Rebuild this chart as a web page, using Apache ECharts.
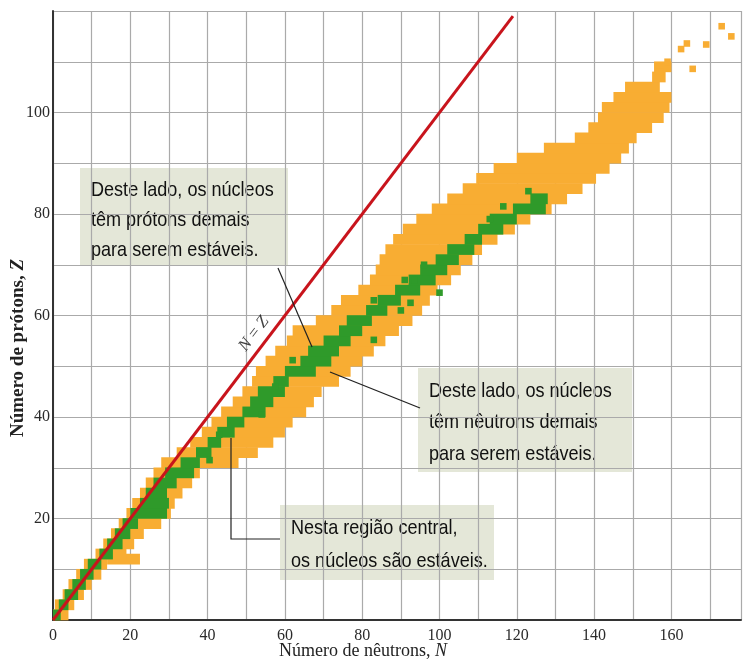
<!DOCTYPE html>
<html>
<head>
<meta charset="utf-8">
<script src="https://cdn.jsdelivr.net/npm/echarts@6/dist/echarts.min.js"></script>
<style>
  html, body { margin: 0; padding: 0; background: #fff; }
  #chart { width: 744px; height: 662px; }
</style>
</head>
<body>
<div id="chart"></div>
<script>
// orange: all known nuclides, one row per 2 protons [Z, Nmin, Nmax]
var unstableRows = [
  [1, 0, 4], [3, 0.5, 5.5], [5, 2.5, 8], [7, 4, 10], [9, 6, 12.5],
  [11, 8, 14], [12, 14, 22.5], [13, 11, 19], [15, 13, 21], [17, 15, 23.5],
  [19, 17, 28], [21, 19, 30.5], [23, 20.5, 31.5], [25, 22.5, 33.5], [27, 24, 36],
  [29, 26, 38], [31, 28, 48], [33, 32, 53], [35, 35.5, 57], [37, 38.5, 60],
  [39, 41, 62], [41, 43.5, 65.5], [43, 46.5, 67.5], [45, 49, 69.5], [47, 51.5, 74],
  [49, 52.5, 77], [51, 55, 80], [53, 57.5, 83], [55, 60.5, 86], [57, 62, 89.5],
  [59, 68, 93], [61, 72, 95.5], [63, 74.5, 97.5], [65, 79, 99.5], [67, 82, 103],
  [69, 83.5, 105.5], [71, 84.5, 108.5], [73, 86, 111], [75, 88, 115], [77, 90.5, 119.5],
  [79, 94, 123.5], [81, 98, 129], [83, 102, 133], [85, 106, 137], [87, 109.5, 140.5],
  [89, 114, 144], [91, 120, 147], [93, 127, 149], [95, 135, 151], [97, 138.5, 155],
  [99, 141, 158], [101, 142, 159.5], [103, 145, 160], [105, 148, 157],
  [107, 155, 158.5], [109, 155.5, 160]
];
// green: stable nuclides [Z, Nmin, Nmax]
var stableRows = [
  [1, 0, 2], [3, 1.5, 4], [5, 3, 6.5], [7, 5, 8.5], [9, 7, 10.5],
  [11, 9, 12.5], [13, 12, 15.5], [15, 14, 18], [17, 16, 20], [19, 18, 22],
  [21, 20, 29.5], [23, 22.5, 30], [25, 24, 29.5], [27, 26, 32], [29, 29, 36.5],
  [31, 33, 38], [33, 37, 41], [35, 40, 43.5], [37, 42.5, 47], [39, 45, 49.5],
  [41, 49, 55], [43, 51, 57], [45, 53, 60], [47, 57, 61], [49, 60, 68],
  [51, 64, 72], [53, 66, 74], [55, 70, 77], [57, 74, 80], [59, 76, 82.5],
  [61, 81, 86.5], [63, 84, 90], [65, 88.5, 95], [67, 92, 99], [69, 95, 102],
  [71, 99, 105], [73, 102, 109], [75, 106.5, 111], [77, 110, 116.5], [79, 113, 120],
  [81, 119, 127.5], [83, 123.5, 128]
];
// isolated squares [N, Z]
var stableCells = [
  [40.5, 31.5], [43, 36.5], [54, 40.5], [62, 51.2], [83, 63], [90, 61],
  [92.5, 62.5], [91, 67], [93.5, 67], [96, 70], [113, 79], [116.5, 81.5],
  [123, 84.5], [83, 55.2], [100, 64.5], [57.5, 46]
];
var unstableCells = [
  [157, 108], [159, 110], [162.5, 112.5], [164, 113.6], [165.5, 108.6],
  [169, 113.4], [173, 117], [175.5, 115]
];
var nzLine = [[0, 0], [119, 119]];
var xLabels = [0, 20, 40, 60, 80, 100, 120, 140, 160];
var yLabels = [20, 40, 60, 80, 100];

var ORANGE = '#f8ad33';
var GREEN = '#2f9a2a';

function rowItem(color) {
  return function (params, api) {
    var z = api.value(0);
    var a = api.coord([api.value(1), z + 1]);
    var b = api.coord([api.value(2), z - 1]);
    return {
      type: 'rect',
      shape: { x: a[0], y: a[1] - 0.3, width: b[0] - a[0], height: b[1] - a[1] + 0.6 },
      style: { fill: color }
    };
  };
}
function cellItem(color) {
  return function (params, api) {
    var c = api.coord([api.value(0), api.value(1)]);
    var s = api.size([1.7, 1.3]);
    return {
      type: 'rect',
      shape: { x: c[0] - s[0] / 2, y: c[1] - s[1] / 2, width: s[0], height: s[1] },
      style: { fill: color }
    };
  };
}

var serif = "'Liberation Serif', 'DejaVu Serif', serif";
var sans = "'Liberation Sans', Arial, sans-serif";

function note(x, y, w, h, text, lh) {
  return {
    type: 'group', x: x, y: y, z: 100,
    children: [
      { type: 'rect', shape: { x: 0, y: 0, width: w, height: h }, style: { fill: '#e4e7d8' } },
      { type: 'text', x: 11, y: 7, scaleX: 0.86, style: {
          text: text, fontFamily: sans, fontSize: 21, lineHeight: lh,
          fill: '#111', verticalAlign: 'top' } }
    ]
  };
}

var option = {
  animation: false,
  grid: { left: 53, top: 11, bottom: 42, right: 0 },
  xAxis: {
    type: 'value', min: 0, max: 178, interval: 10,
    axisLine: { lineStyle: { color: '#333', width: 2 } },
    axisTick: { show: false },
    axisLabel: {
      margin: 8, color: '#2a2a2a', fontFamily: serif, fontSize: 16,
      formatter: function (v) { return xLabels.indexOf(v) >= 0 ? v : ''; }
    },
    splitLine: { show: true, lineStyle: { color: '#aaaaaa', width: 1.2 } }
  },
  yAxis: {
    type: 'value', min: 0, max: 120, interval: 10,
    axisLine: { show: true, lineStyle: { color: '#333', width: 2 } },
    axisTick: { show: false },
    axisLabel: {
      margin: 3, color: '#2a2a2a', fontFamily: serif, fontSize: 16,
      formatter: function (v) { return yLabels.indexOf(v) >= 0 ? v : ''; }
    },
    splitLine: { show: true, lineStyle: { color: '#aaaaaa', width: 1.2 } }
  },
  series: [
    { type: 'custom', data: unstableRows, encode: { x: [1, 2], y: 0 }, renderItem: rowItem(ORANGE), z: 2, silent: true },
    { type: 'custom', data: unstableCells, encode: { x: 0, y: 1 }, renderItem: cellItem(ORANGE), z: 2, silent: true },
    { type: 'custom', data: stableRows, encode: { x: [1, 2], y: 0 }, renderItem: rowItem(GREEN), z: 3, silent: true },
    { type: 'custom', data: stableCells, encode: { x: 0, y: 1 }, renderItem: cellItem(GREEN), z: 3, silent: true },
    {
      type: 'line', data: nzLine, symbol: 'none', z: 5, silent: true,
      lineStyle: { color: '#c8141c', width: 3 }
    },
    {
      type: 'scatter', data: [[52, 56.4]], symbolSize: 0, z: 6, silent: true,
      label: {
        show: true, position: 'inside', rotate: 52.6,
        formatter: '{i|N} = {i|Z}',
        fontFamily: serif, fontSize: 17, color: '#111',
        rich: { i: { fontStyle: 'italic', fontFamily: serif, fontSize: 17, color: '#111' } }
      }
    }
  ],
  graphic: [
    { type: 'polyline', z: 100, shape: { points: [[278, 268], [312, 347]] }, style: { stroke: '#222', lineWidth: 1.2, fill: null } },
    { type: 'polyline', z: 100, shape: { points: [[330, 372], [420, 408]] }, style: { stroke: '#222', lineWidth: 1.2, fill: null } },
    { type: 'polyline', z: 100, shape: { points: [[231, 438], [231, 539], [280, 539]] }, style: { stroke: '#222', lineWidth: 1.2, fill: null } },
    note(80, 168, 208, 98, 'Deste lado, os núcleos\ntêm prótons demais\npara serem estáveis.', 30),
    note(418, 368, 214, 104, 'Deste lado, os núcleos\ntêm nêutrons demais\npara serem estáveis.', 31.5),
    note(280, 505, 214, 75, 'Nesta região central,\nos núcleos são estáveis.', 33),
    {
      type: 'text', x: 363, y: 651, z: 100,
      style: {
        text: '{a|Número de nêutrons, }{b|N}', align: 'center', verticalAlign: 'middle',
        rich: {
          a: { fontFamily: serif, fontSize: 18, fill: '#222' },
          b: { fontFamily: serif, fontSize: 18, fontStyle: 'italic', fill: '#222' }
        }
      }
    },
    {
      type: 'text', x: 18, y: 348, rotation: Math.PI / 2, z: 100,
      style: {
        text: '{a|Número de prótons, }{b|Z}', align: 'center', verticalAlign: 'middle',
        rich: {
          a: { fontFamily: serif, fontSize: 19, fontWeight: 'bold', fill: '#222' },
          b: { fontFamily: serif, fontSize: 19, fontWeight: 'bold', fontStyle: 'italic', fill: '#222' }
        }
      }
    }
  ]
};

var myChart = echarts.init(document.getElementById('chart'));
myChart.setOption(option);
</script>
</body>
</html>
